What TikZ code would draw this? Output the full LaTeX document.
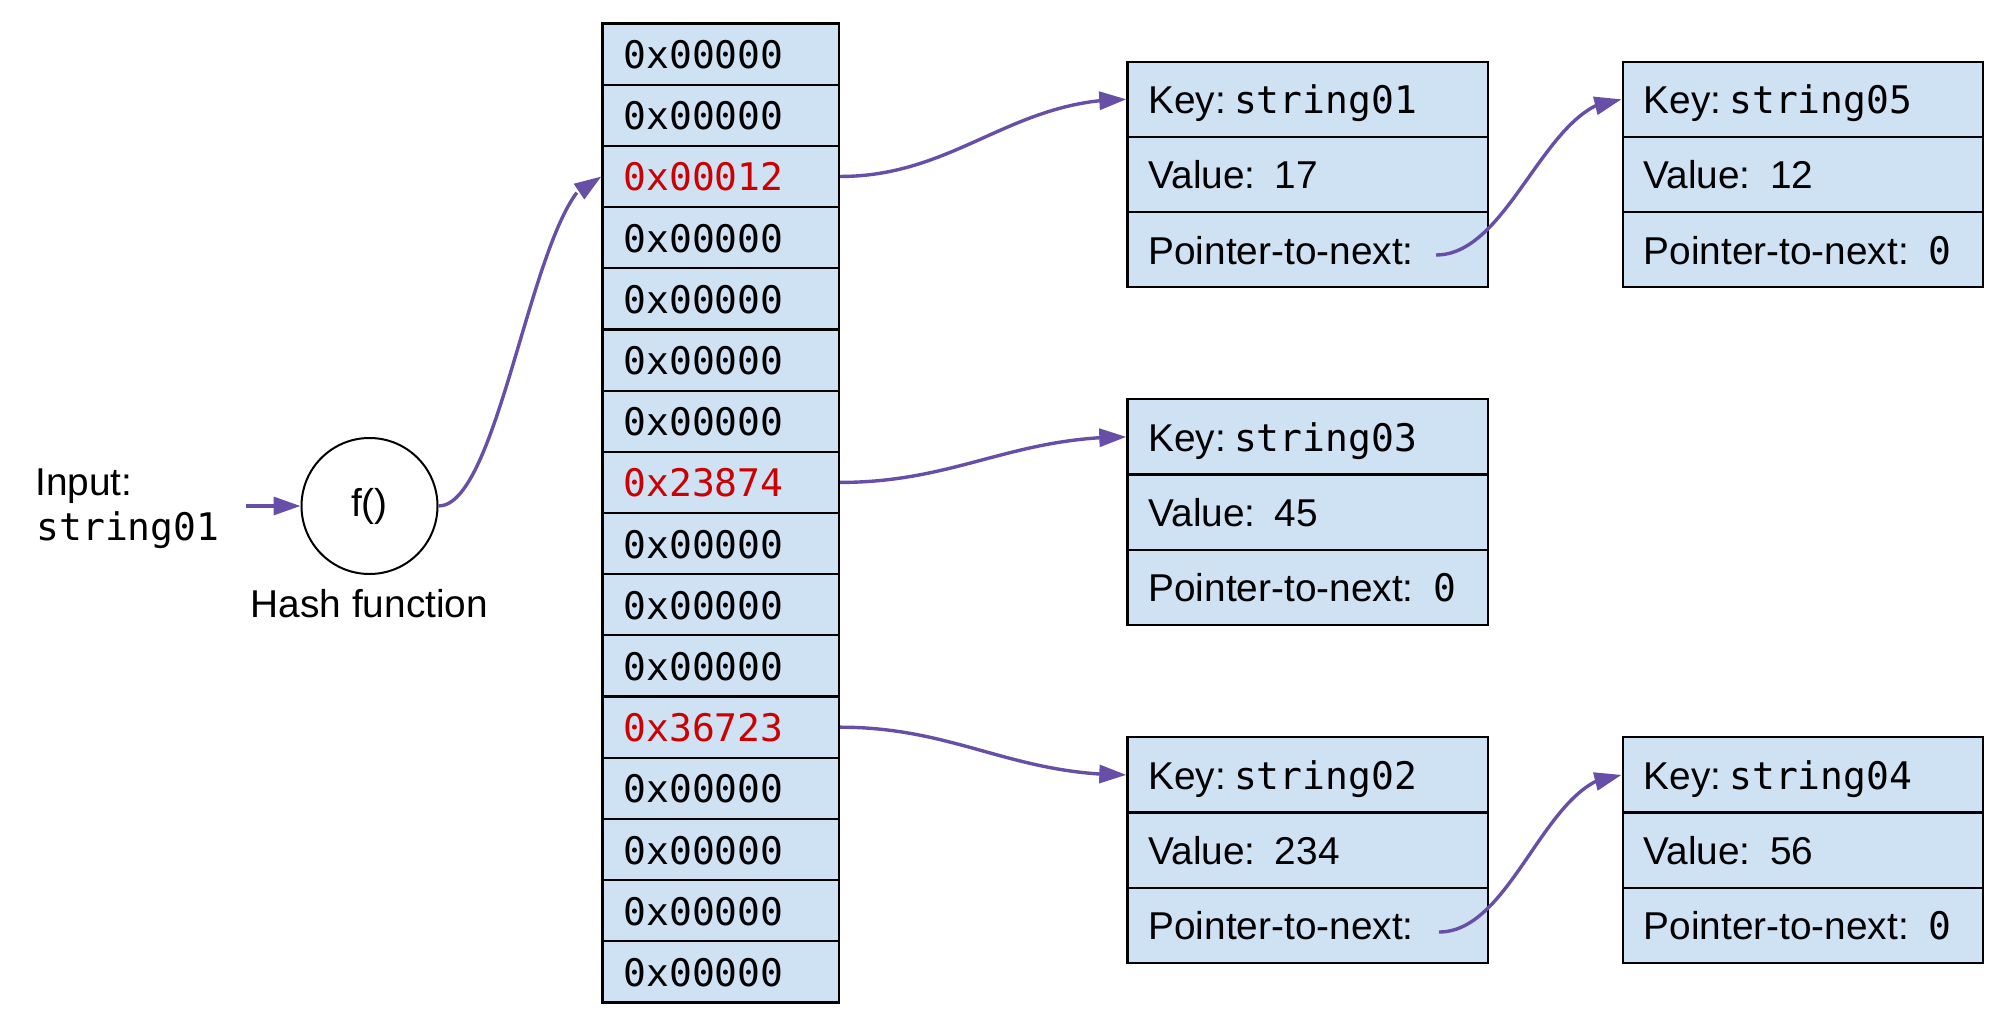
\documentclass[tikz,border=0pt]{standalone}
\usepackage{fontspec}
\setmainfont{Liberation Sans}
\setmonofont{DejaVu Sans Mono}
\usetikzlibrary{arrows.meta,bending}
\definecolor{cellblue}{HTML}{CFE2F3}
\definecolor{arrowpurple}{HTML}{674EA7}
\definecolor{addrred}{HTML}{CC0000}
\newcommand{\mainsz}{\fontsize{19.4pt}{23pt}\selectfont}
\newcommand{\monosz}{\fontsize{19pt}{23pt}\selectfont}
\newcommand{\mono}[1]{{\ttfamily\monosz #1}}
\newcommand{\keytxt}[1]{Key:\hspace{4pt}\mono{#1}}
\begin{document}
\begin{tikzpicture}[x=0.5pt,y=-0.5pt,
  cell/.style={draw=black, line width=1.1pt, fill=cellblue,
    minimum height=30.6pt, text width=97.25pt, inner xsep=10.5pt, inner ysep=0pt,
    align=left, text height=14.5pt, text depth=0pt, font=\ttfamily\monosz},
  rec/.style={draw=black, line width=1.1pt, fill=cellblue,
    minimum height=37.6pt, text width=159.2pt, inner xsep=10.5pt, inner ysep=0pt,
    align=left, text height=14.5pt, text depth=0pt, font=\mainsz},
  conn/.style={draw=arrowpurple, line width=1.7pt,
    -{Triangle[length=13.5pt,width=9pt,flex]}},
  lbl/.style={inner sep=0pt, font=\mainsz}
]
\useasboundingbox (0,0) rectangle (2000,1026);

% hash function
\node[draw=black, line width=1pt, circle, minimum size=68pt, inner sep=0pt, font=\mainsz] (c) at (369.5,506) {f()};
\node[lbl, anchor=base] (hf) at (369.5,617) {Hash function};
\node[lbl, anchor=base west] (in1) at (35,495) {Input:};
\node[inner sep=0pt, anchor=base west, font=\ttfamily\monosz] (in2) at (36,540) {string01};
\coordinate (inp) at (246,506);

% array
\foreach \i/\v/\c in {1/0x00000/black,2/0x00000/black,3/0x00012/addrred,4/0x00000/black,
  5/0x00000/black,6/0x00000/black,7/0x00000/black,8/0x23874/addrred,9/0x00000/black,
  10/0x00000/black,11/0x00000/black,12/0x36723/addrred,13/0x00000/black,14/0x00000/black,
  15/0x00000/black,16/0x00000/black}
  \node[cell, text=\c] (r\i) at (720.7,{23.5+61.19*(\i-0.5)}) {\v};

% records, column 1
\node[rec] (k1) at (1307.6,99.3) {\keytxt{string01}};
\node[rec] (v1) at (1307.6,174.5) {Value: 17};
\node[rec] (p1) at (1307.6,249.7) {Pointer-to-next:};
\node[rec] (k3) at (1307.6,436.9) {\keytxt{string03}};
\node[rec] (v3) at (1307.6,512.1) {Value: 45};
\node[rec] (p3) at (1307.6,587.3) {Pointer-to-next: \mono{0}};
\node[rec] (k2) at (1307.6,774.9) {\keytxt{string02}};
\node[rec] (v2) at (1307.6,850.1) {Value: 234};
\node[rec] (p2) at (1307.6,925.3) {Pointer-to-next:};

% records, column 2
\node[rec] (k5) at (1802.8,99.3) {\keytxt{string05}};
\node[rec] (v5) at (1802.8,174.5) {Value: 12};
\node[rec] (p5) at (1802.8,249.7) {Pointer-to-next: \mono{0}};
\node[rec] (k4) at (1802.8,774.9) {\keytxt{string04}};
\node[rec] (v4) at (1802.8,850.1) {Value: 56};
\node[rec] (p4) at (1802.8,925.3) {Pointer-to-next: \mono{0}};

\coordinate (ps1) at (1436,255);
\coordinate (ps2) at (1439,932);

% connectors
\draw[conn] (inp) -- (c.west);
\draw[conn] (c.east) .. controls +(65,0) and +(-65,0) .. (r3.west);
\draw[conn] (r3.east) .. controls +(115,0) and +(-115,0) .. (k1.west);
\draw[conn] (r8.east) .. controls +(115,0) and +(-115,0) .. (k3.west);
\draw[conn] (r12.east) .. controls +(115,0) and +(-115,0) .. (k2.west);
\draw[conn] (ps1) .. controls +(75,0) and +(-75,0) .. (k5.west);
\draw[conn] (ps2) .. controls +(75,0) and +(-75,0) .. (k4.west);
\end{tikzpicture}
\end{document}
